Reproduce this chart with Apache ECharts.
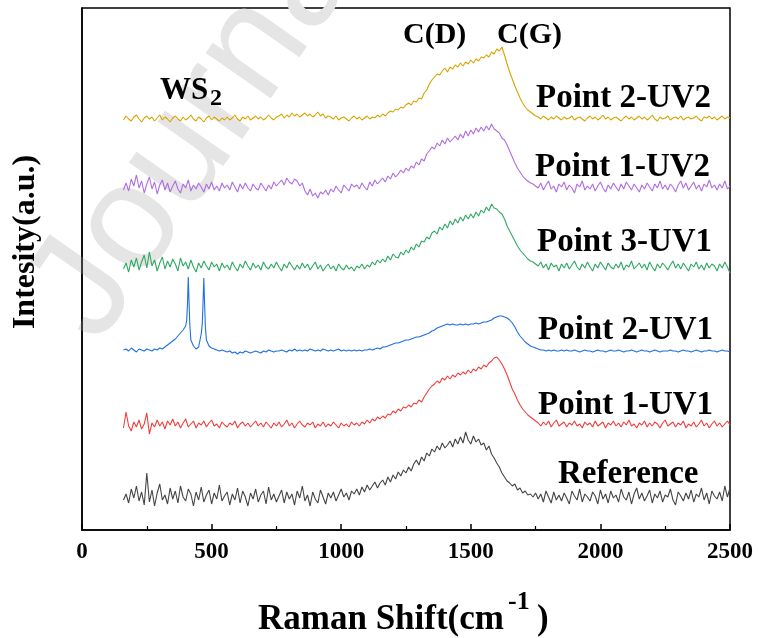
<!DOCTYPE html>
<html>
<head>
<meta charset="utf-8">
<script src="https://cdn.jsdelivr.net/npm/echarts@6/dist/echarts.min.js"></script>
<style>
  html, body { margin: 0; padding: 0; background: #fff; }
  #chart { width: 758px; height: 638px; }
</style>
</head>
<body>
<div id="chart"></div>
<script>
// Raman shift grid (cm-1)
var shift = [160,170,180,190,200,210,220,230,240,250,
  260,270,280,290,300,310,320,330,340,350,
  360,370,380,390,400,410,420,430,440,450,
  460,470,480,490,500,510,520,530,540,550,
  560,570,580,590,600,610,620,630,640,650,
  660,670,680,690,700,710,720,730,740,750,
  760,770,780,790,800,810,820,830,840,850,
  860,870,880,890,900,910,920,930,940,950,
  960,970,980,990,1000,1010,1020,1030,1040,1050,
  1060,1070,1080,1090,1100,1110,1120,1130,1140,1150,
  1160,1170,1180,1190,1200,1210,1220,1230,1240,1250,
  1260,1270,1280,1290,1300,1310,1320,1330,1340,1350,
  1360,1370,1380,1390,1400,1410,1420,1430,1440,1450,
  1460,1470,1480,1490,1500,1510,1520,1530,1540,1550,
  1560,1570,1580,1590,1600,1610,1620,1630,1640,1650,
  1660,1670,1680,1690,1700,1710,1720,1730,1740,1750,
  1760,1770,1780,1790,1800,1810,1820,1830,1840,1850,
  1860,1870,1880,1890,1900,1910,1920,1930,1940,1950,
  1960,1970,1980,1990,2000,2010,2020,2030,2040,2050,
  2060,2070,2080,2090,2100,2110,2120,2130,2140,2150,
  2160,2170,2180,2190,2200,2210,2220,2230,2240,2250,
  2260,2270,2280,2290,2300,2310,2320,2330,2340,2350,
  2360,2370,2380,2390,2400,2410,2420,2430,2440,2450,
  2460,2470,2480,2490,2500]

// stacked intensities (a.u., vertical offset included)
var p2uv2 = [410,414,411,409,413,415,411,408,412,414,
  411,413,409,412,415,410,413,411,408,412,
  414,411,409,413,410,412,415,411,409,413,
  411,408,412,414,410,413,411,409,412,410,
  413,410,412,415,411,409,413,411,414,410,
  412,414,411,413,410,412,415,412,410,413,
  414,416,412,415,413,417,414,416,413,415,
  417,414,416,413,415,418,414,416,412,414,
  413,411,414,410,412,413,411,409,412,414,
  411,413,410,412,414,411,413,412,415,413,
  416,414,417,419,418,421,420,423,422,425,
  427,425,429,428,432,431,437,440,446,450,
  453,456,455,459,462,458,463,461,465,463,
  467,464,468,466,470,467,471,469,473,472,
  475,473,478,476,481,479,483,475,466,458,
  451,444,438,432,427,423,420,418,416,414,
  413,411,414,412,410,413,411,414,412,410,
  413,411,412,414,410,412,413,411,409,412,
  414,411,413,410,412,415,411,413,410,412,
  413,411,409,412,414,411,413,410,412,414,
  411,413,410,412,415,411,409,413,411,412,
  414,410,412,413,411,414,410,412,413,411,
  412,414,411,409,413,412,414,411,413,410,
  412,414,411,413,412]

var p1uv2 = [340,347,339,351,344,355,342,349,337,346,
  353,341,348,336,345,350,340,347,338,344,
  349,341,337,346,342,350,339,345,341,347,
  343,338,346,341,348,340,344,339,347,342,
  345,340,348,343,338,346,341,347,342,339,
  346,342,340,347,343,339,345,341,348,344,
  347,350,345,352,348,346,351,349,344,347,
  339,335,341,334,337,332,338,336,340,335,
  341,338,344,340,337,345,342,339,346,343,
  345,341,347,343,340,348,344,350,346,349,
  352,348,354,351,357,353,356,360,357,362,
  359,364,362,368,365,371,369,376,379,383,
  381,387,384,390,386,392,388,391,394,390,
  396,392,399,394,400,396,402,398,403,399,
  404,400,406,401,399,397,392,390,385,379,
  373,367,362,358,354,351,349,347,346,344,
  342,347,340,345,349,341,344,338,346,343,
  348,340,345,342,337,346,343,349,340,344,
  341,346,339,344,348,342,338,345,341,347,
  343,339,346,341,348,344,340,346,342,338,
  345,341,347,343,339,346,342,349,341,345,
  340,346,343,338,345,349,342,347,340,344,
  348,341,345,339,346,343,350,342,345,340,
  346,342,349,341,344]

var p3uv1 = [261,267,258,270,263,272,260,268,275,262,
  278,264,270,259,267,273,261,269,263,271,
  266,259,272,264,268,261,270,263,258,267,
  262,269,264,260,268,263,266,259,267,262,
  265,260,268,263,259,266,262,269,264,260,
  267,262,265,260,268,263,261,266,262,268,
  263,259,266,262,268,264,260,265,261,267,
  262,266,260,264,268,261,265,259,263,266,
  261,264,259,266,262,260,265,261,263,259,
  264,262,266,261,265,263,268,265,270,267,
  271,268,274,270,276,273,272,278,275,280,
  277,283,280,286,283,289,288,293,291,297,
  299,296,303,300,306,302,309,305,311,307,
  313,309,315,311,316,312,318,314,320,317,
  323,319,326,322,321,318,316,311,304,299,
  294,289,284,280,277,274,271,269,268,266,
  264,268,262,266,260,267,263,265,259,266,
  262,267,261,265,269,263,260,266,262,268,
  263,259,266,262,268,264,260,267,263,261,
  266,262,268,260,265,263,269,261,264,267,
  262,266,260,268,263,259,266,262,267,264,
  260,265,269,262,266,261,267,263,259,266,
  263,268,261,265,260,267,262,266,264,259,
  266,262,268,263,257]

var p2uv1 = [180,181,179,182,180,178,181,180,179,181,
  180,179,181,180,182,181,183,185,187,189,
  191,194,197,200,204,253,190,184,181,183,
  196,252,190,184,182,181,180,179,180,179,
  178,179,177,178,176,178,177,179,178,177,
  178,179,178,177,179,178,180,179,178,179,
  179,180,179,178,180,179,181,179,180,179,
  180,179,181,180,179,180,179,181,180,179,
  180,179,180,181,179,180,179,180,179,180,
  179,180,179,180,180,181,180,181,182,181,
  183,183,184,185,186,187,187,188,189,190,
  190,191,192,193,193,194,195,196,197,199,
  200,202,203,204,205,206,205,206,205,205,
  206,205,206,205,206,206,207,206,207,208,
  208,209,210,212,213,214,214,213,212,210,
  207,203,198,194,191,188,186,184,183,182,
  181,180,180,179,180,179,180,179,179,180,
  179,180,179,179,180,179,178,179,180,179,
  179,178,179,180,179,179,178,179,180,179,
  179,180,179,178,179,179,180,179,178,179,
  180,179,179,178,179,180,179,178,179,179,
  179,180,179,179,178,179,180,179,179,178,
  179,180,179,178,179,179,180,179,179,178,
  179,180,179,179,178]

// extra points on the flanks of the two WS2 peaks (Point 2-UV1)
var ws2Shift = [404,407,413,416,464,467,473,476]
var ws2Vals = [210,226,228,205,206,228,226,203]

var p1uv1 = [102,118,104,99,108,103,110,101,106,117,
  96,107,103,110,104,108,101,109,105,111,
  104,108,102,107,111,103,106,109,102,107,
  105,109,103,107,110,104,106,102,108,105,
  103,107,105,109,102,106,108,104,107,103,
  106,109,104,107,103,108,105,102,107,104,
  108,103,106,110,104,107,102,106,109,105,
  103,107,105,108,102,106,104,108,103,106,
  104,108,105,102,107,104,106,103,108,105,
  107,104,108,106,110,107,111,109,113,111,
  114,112,116,115,119,117,121,119,123,122,
  125,123,127,126,130,128,133,137,141,144,
  146,149,147,152,150,154,151,155,153,157,
  155,158,156,160,157,161,159,163,161,165,
  163,167,169,172,173,170,166,161,155,148,
  141,136,130,125,121,118,115,113,111,109,
  107,104,108,105,109,103,107,110,104,106,
  108,103,107,105,109,104,106,102,108,105,
  107,103,109,104,106,108,102,107,105,109,
  104,107,103,108,105,110,104,106,102,107,
  105,109,103,107,104,108,106,102,107,110,
  104,106,108,103,107,105,109,102,106,104,
  108,103,106,110,104,107,102,106,109,104,
  107,103,106,109,105]

var reference = [30,36,27,41,32,44,29,38,25,57,
  28,40,24,37,46,30,35,26,42,31,
  39,27,44,33,29,41,36,24,38,30,
  43,28,35,40,26,37,31,45,29,34,
  38,25,36,30,42,27,39,33,24,37,
  31,41,28,35,39,26,43,30,36,28,
  34,40,27,38,31,36,25,39,32,44,
  29,35,24,38,31,27,40,33,26,37,
  32,38,29,35,41,33,37,30,39,36,
  41,35,43,38,45,40,44,48,42,47,
  50,45,53,48,55,51,58,54,60,57,
  63,59,66,70,65,73,69,77,74,81,
  78,84,80,87,82,85,89,83,91,86,
  93,87,98,90,86,94,88,91,85,87,
  80,84,76,72,67,63,57,53,49,47,
  44,46,40,42,37,39,35,36,33,37,
  31,36,28,39,33,27,38,30,35,29,
  37,32,26,39,34,30,41,28,36,33,
  29,38,34,26,40,31,36,27,39,32,
  35,28,41,33,30,38,26,36,42,31,
  37,29,34,40,27,36,32,39,28,35,
  33,41,30,25,38,34,29,37,31,40,
  28,36,33,42,30,37,26,39,34,31,
  38,29,44,33,42]

var names = ['Point 2-UV2', 'Point 1-UV2', 'Point 3-UV1', 'Point 2-UV1', 'Point 1-UV1', 'Reference']
var colors = ['#D9A300', '#B06EE2', '#2FA864', '#1F6FE3', '#F03E3E', '#454545']

function pairs(xs, ys) {
  return xs.map(function (x, i) { return [x, ys[i]] })
}

var blueData = pairs(shift, p2uv1).concat(pairs(ws2Shift, ws2Vals))
blueData.sort(function (a, b) { return a[0] - b[0] })

var allData = [pairs(shift, p2uv2), pairs(shift, p1uv2), pairs(shift, p3uv1),
  blueData, pairs(shift, p1uv1), pairs(shift, reference)]

var serif = 'Liberation Serif'
var chart = echarts.init(document.getElementById('chart'))

function label(text, x, y, size) {
  return {
    type: 'text', x: x, y: y, z: 10,
    style: {
      text: text, fill: '#000', font: 'bold ' + size + 'px "' + serif + '"',
      textAlign: 'left', textVerticalAlign: 'middle'
    }
  }
}

var option = {
  animation: false,
  backgroundColor: '#fff',
  grid: {
    left: 82, right: 28, top: 8, bottom: 108,
    show: true, borderColor: '#000', borderWidth: 1.5
  },
  xAxis: {
    type: 'value', min: 0, max: 2500, interval: 500,
    axisLine: { show: true, lineStyle: { color: '#000', width: 1.5 } },
    axisTick: { show: true, inside: true, length: 6, lineStyle: { color: '#000', width: 1.5 } },
    minorTick: { show: true, splitNumber: 2, length: 4, lineStyle: { color: '#000', width: 1.2 } },
    axisLabel: {
      color: '#000', fontFamily: serif, fontWeight: 'bold', fontSize: 23, margin: 11,
      formatter: function (v) { return String(v) }
    },
    splitLine: { show: false }
  },
  yAxis: {
    type: 'value', min: 0, max: 522,
    axisLine: { show: true, lineStyle: { color: '#000', width: 1.5 } },
    axisTick: { show: false },
    axisLabel: { show: false },
    splitLine: { show: false }
  },
  series: allData.map(function (d, i) {
    return {
      name: names[i], type: 'line', data: d, symbol: 'none',
      lineStyle: { color: colors[i], width: 1.1 }, z: 3
    }
  }),
  graphic: [
    {
      type: 'text', x: 125, y: 365, rotation: 55 * Math.PI / 180, z: 0,
      style: {
        text: 'Journal Pre-proof', fill: '#e5e5e5',
        font: '150px "Liberation Sans"', textAlign: 'left', textVerticalAlign: 'bottom'
      }
    },
    label('Point 2-UV2', 536, 98, 33),
    label('Point 1-UV2', 535, 167, 33),
    label('Point 3-UV1', 537, 242, 33),
    label('Point 2-UV1', 538, 330, 33),
    label('Point 1-UV1', 538, 405, 33),
    label('Reference', 558, 474, 33),
    label('C(D)', 403, 35, 30),
    label('C(G)', 497, 35, 30),
    label('WS', 160, 91, 31),
    label('2', 210, 99, 24),
    label('Raman Shift(cm', 258, 620, 35),
    label('-1', 508, 602, 26),
    label(')', 537, 620, 35),
    {
      type: 'text', x: 26, y: 242, rotation: Math.PI / 2, z: 10,
      style: {
        text: 'Intesity(a.u.)', fill: '#000', font: 'bold 32px "' + serif + '"',
        textAlign: 'center', textVerticalAlign: 'middle'
      }
    }
  ]
}
chart.setOption(option)
</script>
</body>
</html>
